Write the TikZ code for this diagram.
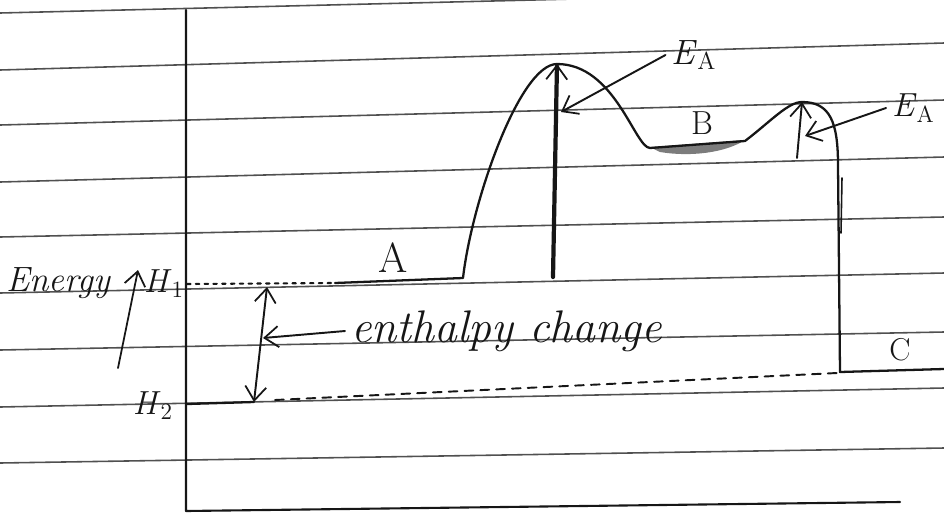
\documentclass[tikz,border=0pt]{standalone}
\usepackage{fontspec}
\usepackage{amsmath}
\usepackage{tikz}
\usetikzlibrary{arrows.meta,positioning,calc}
\definecolor{inkblack}{HTML}{161616}
\definecolor{rulegrey}{HTML}{505050}
\definecolor{shadegrey}{HTML}{7C7C7C}

\begin{document}
\begin{tikzpicture}[x=0.02cm,y=-0.02cm,
  ink/.style={draw=inkblack, line width=1.3pt, line cap=round, line join=round},
  barb/.style={->, >={Straight Barb[length=0.28cm,width=0.42cm,line width=1pt]}},
  dbl/.style={<->, >={Straight Barb[length=0.28cm,width=0.42cm,line width=1pt]}},
  lbl/.style={text=inkblack, font=\fontsize{#1}{#1}\selectfont}]
  \useasboundingbox (0,0) rectangle (944,515);
  \foreach \yl/\yr in {13/-10,70/43,125/100,182/157,237/217,293/273,350/332,407/388,463/448}{
    \draw[draw=rulegrey, line width=0.9pt] (0,\yl) -- (944,\yr);
  }
  \draw[ink, line width=1.2pt] (186,10) -- (186,511) -- (900,502);
  \coordinate (peakone) at (557,64);
  \coordinate (peaktwo) at (802,102);
  \coordinate (eaonetip) at (561,112);
  \coordinate (eatwotip) at (805,136);
  \coordinate (dhtop) at (267,287);
  \coordinate (dhbottom) at (254,402);
  \coordinate (dhmid) at (263,338);
  \fill[shadegrey] (650,147) -- (745,140) .. controls (725,153) and (690,157) .. (660,152) -- cycle;
  \draw[ink] (335,283) -- (463,278)
    .. controls (472,200) and (520,64) .. (peakone)
    .. controls (615,64) and (635,148) .. (650,148)
    -- (745,141)
    .. controls (770,122) and (788,102) .. (peaktwo)
    .. controls (830,102) and (838,122) .. (838,165)
    -- (840,372) -- (944,369);
  \draw[ink, line width=0.9pt] (842,178) -- (841,233);
  \draw[ink, line width=1.2pt, dash pattern=on 2pt off 3pt] (187,284) -- (333,283);
  \draw[ink] (187,404) -- (dhbottom);
  \draw[ink, line width=1.1pt, dash pattern=on 5pt off 4pt] (275,400) -- (837,373);
  \draw[ink, line width=2.4pt, barb] (553,277) -- (peakone);
  \draw[ink, line width=1.1pt, barb] (797,158) -- (peaktwo);
  \draw[ink, line width=1.1pt, dbl] (dhbottom) -- (dhtop);
  \node[lbl=20, anchor=base west, inner sep=0pt] (energy) at (6,291) {\itshape Energy};
  \draw[ink, line width=1pt, barb] (118,368) -- (138,270);
  \node[lbl=19] (hone) at (164,284) {\textit{H}\textsubscript{1}};
  \node[lbl=19] (htwo) at (153,406) {\textit{H}\textsubscript{2}};
  \node[lbl=24] (lblA) at (393,258) {A};
  \node[lbl=19] (lblB) at (702,123) {B};
  \node[lbl=18] (lblC) at (900,350) {C};
  \node[lbl=20] (eaone) at (694,55) {\textit{E}\textsubscript{A}};
  \node[lbl=19, anchor=west] (eatwo) at (886,108) {\textit{E}\textsubscript{A}};
  \node[lbl=26, anchor=west] (enth) at (345,331) {\itshape enthalpy change};
  \draw[ink, line width=1.1pt, barb] (eaone.west) -- (eaonetip);
  \draw[ink, line width=1.1pt, barb] (eatwo.west) -- (eatwotip);
  \draw[ink, line width=1.1pt, barb] (enth.west) -- (dhmid);
\end{tikzpicture}
\end{document}
